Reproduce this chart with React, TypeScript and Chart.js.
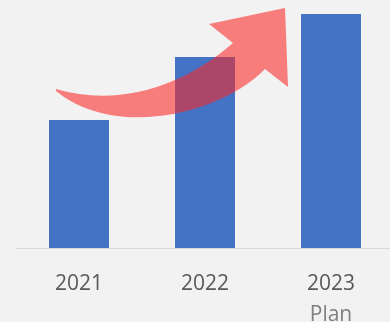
import React, { useEffect, useRef } from "react";
import { Chart, registerables } from "chart.js";

Chart.register(...registerables);

// ---- data ----
const categories: string[] = ["2021", "2022", "2023"];
const subLabels: string[] = ["", "", "Plan"];
const values: number[] = [54.7, 81.6, 100];
const yMax = 106;

// growth arrow outline in data space: [category index, value]
const arrowTail: number[] = [-0.183, 67.96];
const arrowUpperCtrl: number[][] = [[0.325, 59.84], [0.841, 69.67]];
const arrowNotchUpper: number[] = [1.222, 87.62];
const arrowBarb: number[] = [1.032, 95.74];
const arrowTip: number[] = [1.635, 102.58];
const arrowRight: number[] = [1.659, 68.81];
const arrowNotchLower: number[] = [1.476, 76.5];
const arrowLowerCtrl: number[][] = [[1.119, 57.0], [0.286, 46.5]];
const arrowTailLower: number[] = [-0.183, 67.1];

const arrowPlugin = {
  id: "growthArrow",
  afterDatasetsDraw(chart: any) {
    const xs = chart.scales.x;
    const ys = chart.scales.y;
    const P = (p: number[]) => [xs.getPixelForValue(p[0]), ys.getPixelForValue(p[1])];
    const ctx = chart.ctx as CanvasRenderingContext2D;
    ctx.save();
    ctx.filter = "blur(0.6px)";
    ctx.fillStyle = "rgba(250, 40, 40, 0.58)";
    ctx.beginPath();
    const t = P(arrowTail);
    ctx.moveTo(t[0], t[1]);
    const u1 = P(arrowUpperCtrl[0]);
    const u2 = P(arrowUpperCtrl[1]);
    const n1 = P(arrowNotchUpper);
    ctx.bezierCurveTo(u1[0], u1[1], u2[0], u2[1], n1[0], n1[1]);
    const b = P(arrowBarb);
    ctx.lineTo(b[0], b[1]);
    const tp = P(arrowTip);
    ctx.lineTo(tp[0], tp[1]);
    const r = P(arrowRight);
    ctx.lineTo(r[0], r[1]);
    const n2 = P(arrowNotchLower);
    ctx.lineTo(n2[0], n2[1]);
    const l1 = P(arrowLowerCtrl[0]);
    const l2 = P(arrowLowerCtrl[1]);
    const tl = P(arrowTailLower);
    ctx.bezierCurveTo(l1[0], l1[1], l2[0], l2[1], tl[0], tl[1]);
    ctx.closePath();
    ctx.fill();
    ctx.restore();
  },
  afterDraw(chart: any) {
    const xs = chart.scales.x;
    const ctx = chart.ctx as CanvasRenderingContext2D;
    ctx.save();
    ctx.font = '21px "Open Sans"';
    ctx.fillStyle = "#7f7f7f";
    ctx.textAlign = "center";
    ctx.textBaseline = "middle";
    subLabels.forEach((s, i) => {
      if (s) ctx.fillText(s, xs.getPixelForValue(i), xs.top + 67);
    });
    ctx.restore();
  },
};

export default function App() {
  const ref = useRef<HTMLCanvasElement | null>(null);

  useEffect(() => {
    if (!ref.current) return;
    const chart = new Chart(ref.current, {
      type: "bar",
      data: {
        labels: categories,
        datasets: [
          {
            data: values,
            backgroundColor: "#4472C4",
            borderWidth: 0,
            barPercentage: 0.476,
            categoryPercentage: 1,
          },
        ],
      },
      options: {
        responsive: false,
        animation: false,
        layout: { padding: { left: 16, right: 0, top: 0, bottom: 5 } },
        plugins: { legend: { display: false }, tooltip: { enabled: false } },
        scales: {
          y: {
            display: false,
            min: 0,
            max: yMax,
          },
          x: {
            position: "bottom",
            grid: { display: false, drawTicks: false },
            border: { display: true, color: "#d9d9d9", width: 1 },
            ticks: {
              padding: 26,
              autoSkip: false,
              maxRotation: 0,
              color: "#595959",
              font: { family: "Open Sans", size: 21, lineHeight: 1.0 },
            },
          },
        },
      },
      plugins: [arrowPlugin],
    } as any);
    return () => chart.destroy();
  }, []);

  return (
    <div
      style={{
        position: "fixed",
        left: 0,
        top: 0,
        width: 390,
        height: 322,
        overflow: "hidden",
        background: "#f2f2f2",
      }}
    >
      <canvas ref={ref} width={394} height={326} style={{ display: "block", width: 394, height: 326 }} />
    </div>
  );
}
